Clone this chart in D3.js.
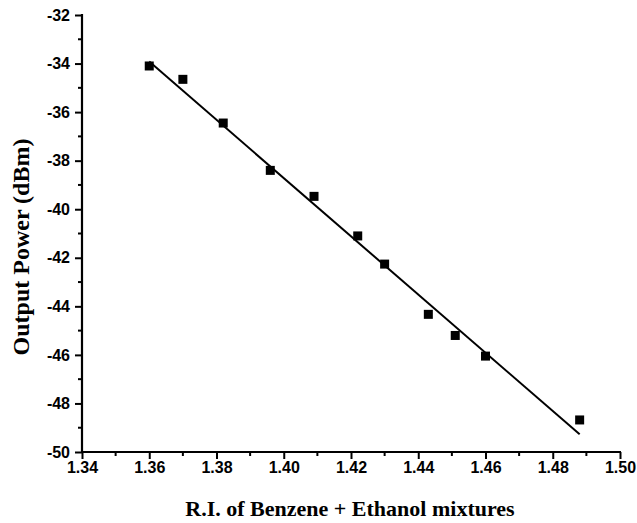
<!DOCTYPE html>
<html><head><meta charset="utf-8">
<script src="https://cdn.jsdelivr.net/npm/d3@7"></script>
<style>body{margin:0;background:#fff}svg{display:block}
.tk{font-family:"Liberation Sans",Arial,sans-serif;font-weight:bold;font-size:16px;fill:#000}
.ttl{font-family:"Liberation Serif","Times New Roman",serif;font-weight:bold;fill:#000}
</style>
</head><body>
<svg id="c" width="637" height="523"></svg>
<script>
const riValues = [1.360, 1.370, 1.382, 1.396, 1.409, 1.422, 1.430, 1.443, 1.451, 1.460, 1.488];
const powerValues = [-34.1, -34.65, -36.45, -38.4, -39.47, -41.1, -42.26, -44.33, -45.2, -46.05, -48.68];
const fitX = [1.360, 1.488];
const fitY = [-33.92, -49.27];
const xTicks = [1.34, 1.36, 1.38, 1.40, 1.42, 1.44, 1.46, 1.48, 1.50];
const yTicks = [-50, -48, -46, -44, -42, -40, -38, -36, -34, -32];
const xLabel = "R.I. of Benzene + Ethanol mixtures";
const yLabel = "Output Power (dBm)";

const svg = d3.select("#c");
const L = 82, R = 620, T = 15, B = 452;
const x = d3.scaleLinear().domain([1.34, 1.50]).range([L, R]);
const y = d3.scaleLinear().domain([-50, -32]).range([B, T]);

const xMinor = d3.range(0, 8).map(i => 1.35 + i * 0.02);
const yMinor = d3.range(0, 9).map(i => -49 + i * 2);

const gx = svg.append("g").attr("transform", `translate(0,${B})`);
gx.selectAll("line.minor").data(xMinor).enter().append("line")
  .attr("x1", d => x(d)).attr("x2", d => x(d)).attr("y1", 0).attr("y2", 4)
  .attr("stroke", "#000").attr("stroke-width", 2);
gx.call(d3.axisBottom(x).tickValues(xTicks).tickFormat(d3.format(".2f")).tickSize(7).tickSizeOuter(0).tickPadding(3))
  .call(g => g.select(".domain").attr("stroke-width", 2.2).attr("d", `M${L-1},0H${R+1}`))
  .call(g => g.selectAll(".tick line").attr("stroke-width", 2))
  .call(g => g.selectAll(".tick text").attr("class", "tk").attr("font-size", null).attr("fill", null));

const gy = svg.append("g").attr("transform", `translate(${L},0)`);
gy.selectAll("line.minor").data(yMinor).enter().append("line")
  .attr("x1", 0).attr("x2", -4).attr("y1", d => y(d)).attr("y2", d => y(d))
  .attr("stroke", "#000").attr("stroke-width", 2);
gy.call(d3.axisLeft(y).tickValues(yTicks).tickFormat(d => String(d)).tickSize(7).tickSizeOuter(0).tickPadding(5))
  .call(g => g.select(".domain").attr("stroke-width", 2.2).attr("d", `M0,${T-1}V${B+1}`))
  .call(g => g.selectAll(".tick line").attr("stroke-width", 2))
  .call(g => g.selectAll(".tick text").attr("class", "tk").attr("font-size", null).attr("fill", null));
gx.attr("font-family", null).attr("font-size", null);
gy.attr("font-family", null).attr("font-size", null);

svg.append("line")
  .attr("x1", x(fitX[0])).attr("y1", y(fitY[0]))
  .attr("x2", x(fitX[1])).attr("y2", y(fitY[1]))
  .attr("stroke", "#000").attr("stroke-width", 2);

const S = 9;
svg.selectAll("rect.pt").data(riValues).enter().append("rect")
  .attr("x", d => x(d) - S / 2)
  .attr("y", (d, i) => y(powerValues[i]) - S / 2)
  .attr("width", S).attr("height", S).attr("fill", "#000");

svg.append("text").attr("class", "ttl").attr("x", 350).attr("y", 516).attr("text-anchor", "middle")
  .style("font-size", "22px").text(xLabel);
svg.append("text").attr("class", "ttl").attr("transform", `translate(29,247) rotate(-90)`).attr("text-anchor", "middle")
  .style("font-size", "24px").text(yLabel);
</script>
</body></html>
